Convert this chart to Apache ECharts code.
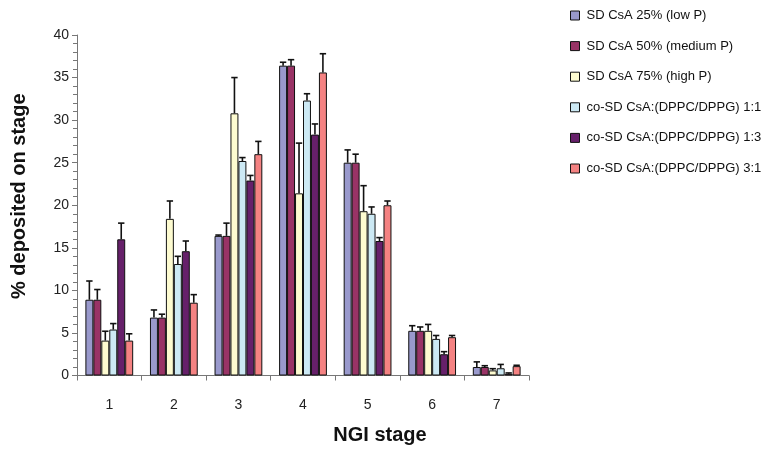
<!DOCTYPE html>
<html><head><meta charset="utf-8">
<script src="https://cdn.jsdelivr.net/npm/echarts@6/dist/echarts.min.js"></script>
<style>html,body{margin:0;padding:0;background:#fff}#c{width:764px;height:452px}</style>
</head><body><div id="c"></div>
<script>
var categories = ['1','2','3','4','5','6','7'];
var seriesNames = ['SD CsA 25% (low P)','SD CsA 50% (medium P)','SD CsA 75% (high P)','co-SD CsA:(DPPC/DPPG) 1:1','co-SD CsA:(DPPC/DPPG) 1:3','co-SD CsA:(DPPC/DPPG) 3:1'];
var lowP     = [8.9, 6.8, 16.4, 36.4, 25.0, 5.25, 1.0];
var lowPErr  = [2.2, 0.9, 0.1, 0.4, 1.5, 0.6, 0.6];
var medP     = [8.9, 6.8, 16.4, 36.4, 25.0, 5.25, 1.0];
var medPErr  = [1.2, 0.4, 1.5, 0.7, 1.0, 0.45, 0.15];
var highP    = [4.1, 18.4, 30.8, 21.4, 19.3, 5.25, 0.6];
var highPErr = [1.1, 2.1, 4.2, 5.9, 3.0, 0.75, 0.2];
var co11     = [5.4, 13.1, 25.2, 32.3, 19.0, 4.3, 0.85];
var co11Err  = [0.7, 0.9, 0.4, 0.8, 0.8, 0.4, 0.45];
var co13     = [16.0, 14.6, 22.9, 28.3, 15.8, 2.5, 0.2];
var co13Err  = [1.9, 1.2, 0.6, 1.25, 0.4, 0.3, 0.1];
var co31     = [4.1, 8.55, 26.0, 35.6, 20.0, 4.5, 1.1];
var co31Err  = [0.8, 0.95, 1.5, 2.2, 0.5, 0.2, 0.1];
var yTicks = [0,5,10,15,20,25,30,35,40];

var values = [lowP, medP, highP, co11, co13, co31];
var errors = [lowPErr, medPErr, highPErr, co11Err, co13Err, co31Err];
var colors = ['#9999cc','#993366','#fdfbd0','#cce9f4','#66206a','#f48282'];
var catGap = 0.26;
var nS = values.length;
var FONT = 'Liberation Sans, Arial, sans-serif';

var series = [];
values.forEach(function(v, i){
  series.push({
    name: seriesNames[i], type: 'bar', data: v,
    barGap: '0%', barCategoryGap: (catGap*100)+'%',
    itemStyle: {color: colors[i], borderColor: '#111', borderWidth: 1},
    z: 2
  });
});
var errData = [];
values.forEach(function(v, i){
  v.forEach(function(val, c){ errData.push([c, i, val, errors[i][c]]); });
});
series.push({
  type: 'custom', z: 5, silent: true,
  encode: {x: 0, y: 2},
  data: errData,
  renderItem: function(params, api){
    var c = api.value(0), i = api.value(1), val = api.value(2), e = api.value(3);
    var band = api.size([1,0])[0];
    var bw = band*(1-catGap)/nS;
    var base = api.coord([c, val]);
    var top = api.coord([c, val+e]);
    var x = base[0] - band*(1-catGap)/2 + (i+0.5)*bw;
    var hw = bw*0.4;
    return {type:'group', children:[
      {type:'line', shape:{x1:x,y1:base[1],x2:x,y2:top[1]}, style:{stroke:'#111',lineWidth:1.6}},
      {type:'line', shape:{x1:x-hw,y1:top[1],x2:x+hw,y2:top[1]}, style:{stroke:'#111',lineWidth:1.6}}
    ]};
  }
});

var chart = echarts.init(document.getElementById('c'));
chart.setOption({
  animation: false,
  textStyle: {fontFamily: FONT},
  grid: {left: 77, right: 235, top: 35, bottom: 76.5, containLabel: false},
  legend: {
    data: seriesNames, orient: 'vertical', left: 565, top: 3,
    itemWidth: 9, itemHeight: 9, itemGap: 15.6, icon: 'rect',
    itemStyle: {borderColor: '#111', borderWidth: 1},
    textStyle: {fontSize: 13, color: '#111', lineHeight: 15, fontFamily: FONT, padding:[0,0,0,2]}
  },
  xAxis: {
    type: 'category', data: categories,
    name: 'NGI stage', nameLocation: 'middle', nameGap: 50,
    nameTextStyle: {fontSize: 20, fontWeight: 'bold', color: '#111', padding: [0,0,0,154]},
    axisLine: {lineStyle: {color: '#777', width: 1}},
    axisTick: {show: true, length: 5, lineStyle: {color: '#777'}},
    axisLabel: {fontSize: 14, color: '#222', margin: 23}
  },
  yAxis: {
    type: 'value', min: 0, max: 40, interval: 5,
    name: '% deposited on stage', nameLocation: 'middle', nameGap: 48,
    nameTextStyle: {fontSize: 20, fontWeight: 'bold', color: '#111', padding: [0,0,0,18]},
    axisLine: {show: true, lineStyle: {color: '#777', width: 1}},
    axisTick: {show: true, length: 5, lineStyle: {color: '#777'}},
    minorTick: {show: true, splitNumber: 5, length: 4, lineStyle: {color: '#777'}},
    splitLine: {show: false},
    axisLabel: {fontSize: 14, color: '#222', margin: 8,
      formatter: function(v){ return yTicks.indexOf(v) >= 0 ? String(v) : ''; }}
  },
  series: series
});
</script></body></html>
